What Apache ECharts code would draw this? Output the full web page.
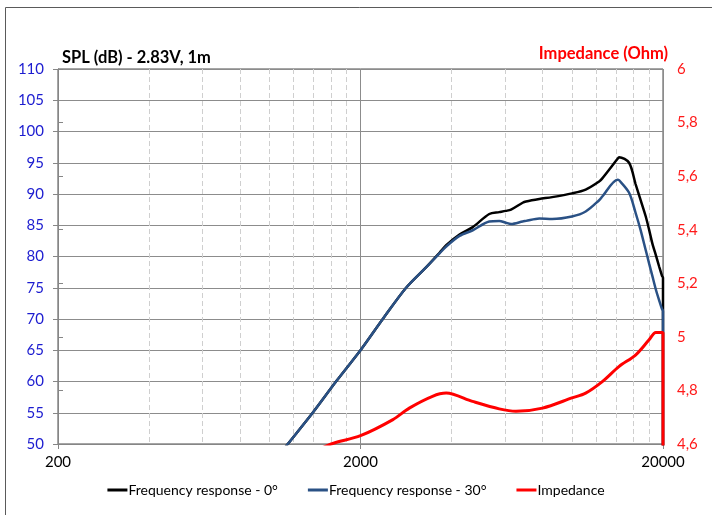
<!DOCTYPE html>
<html>
<head>
<meta charset="utf-8">
<script src="https://cdn.jsdelivr.net/npm/echarts@6/dist/echarts.min.js"></script>
<style>
  html, body { margin: 0; padding: 0; background: #fff; }
  #chart { width: 712px; height: 515px; }
</style>
</head>
<body>
<div id="chart"></div>
<script>
// frequency (Hz) for both SPL curves; last point repeats 20000 for the drop-off
const freqSpl = [1000, 1150, 1390, 1660, 2000, 2370, 2830, 3300, 3650, 3840, 4250, 4700, 5330, 5750, 6050, 6290, 6870, 7050, 7800, 8600, 10000, 11100, 12300, 12600, 14140, 14320, 15450, 16230, 16850, 17540, 17990, 18440, 18970, 19420, 19850, 20000, 20000]
const spl0 = [46.3, 50, 55, 60, 65, 70, 75, 78.3, 80.6, 81.8, 83.5, 84.7, 86.8, 87.1, 87.3, 87.5, 88.6, 88.8, 89.2, 89.5, 90.1, 90.7, 92.0, 92.5, 95.6, 95.9, 95.0, 91.6, 89.1, 86.4, 84.3, 82.1, 80.1, 78.4, 76.9, 76.6, 30]
const spl30 = [46.3, 50, 55, 60, 65, 70, 75, 78.3, 80.5, 81.6, 83.3, 84.2, 85.6, 85.7, 85.4, 85.2, 85.6, 85.7, 86.1, 86.0, 86.4, 87.2, 89.0, 89.6, 92.3, 92.2, 90.2, 87.0, 84.3, 81.0, 78.9, 76.9, 74.6, 73.0, 71.6, 71.3, 30]

const freqImp = [1400, 1600, 2000, 2560, 2900, 3460, 3840, 4690, 5750, 6530, 7990, 10000, 11100, 12600, 14300, 16260, 17990, 18930, 19650, 20000, 20000]
const imp = [4.57, 4.60, 4.631, 4.691, 4.734, 4.778, 4.790, 4.759, 4.731, 4.722, 4.734, 4.772, 4.790, 4.833, 4.889, 4.933, 4.989, 5.016, 5.016, 5.016, 4.4]

const xTicks = [200, 2000, 20000]
const seriesNames = ['Frequency response - 0°', 'Frequency response - 30°', 'Impedance']

const fMin = xTicks[0]
const lg = f => Math.log10(f / fMin)
const pairs = (fs, vs) => fs.map((f, i) => [lg(f), vs[i]])

// minor grid lines at 200*k and 2000*k
let minorPos = []
for (let d = 0; d < xTicks.length - 1; d++) {
  for (let k = 2; k <= 9; k++) minorPos.push(d + Math.log10(k))
}

const font = 'Lato, "Open Sans", sans-serif'
const chart = echarts.init(document.getElementById('chart'))

chart.setOption({
  animation: false,
  textStyle: {fontFamily: font},
  graphic: [{
    type: 'rect',
    shape: {x: 5.5, y: 7.5, width: 760, height: 560},
    style: {fill: 'none', stroke: '#5a5a5a', lineWidth: 1},
    silent: true
  }],
  title: [
    {text: 'SPL (dB) - 2.83V, 1m', left: 57, top: 44, textStyle: {fontSize: 16.5, fontWeight: 'bold', color: '#000', fontFamily: font}},
    {text: 'Impedance (Ohm)', right: 39, top: 40, textStyle: {fontSize: 16.5, fontWeight: 'bold', color: '#ff0000', fontFamily: font}}
  ],
  grid: {
    left: 58, right: 49, top: 69, bottom: 71,
    show: true, borderColor: '#4d4d4d', borderWidth: 1
  },
  legend: {
    bottom: 13,
    left: 'center',
    icon: 'rect',
    itemWidth: 20,
    itemHeight: 3,
    itemGap: 30,
    textStyle: {fontSize: 14, color: '#000', fontFamily: font, padding: [0, 0, 0, -4]},
    data: seriesNames
  },
  xAxis: [
    {
      type: 'value', min: 0, max: 2, interval: 1,
      axisLine: {lineStyle: {color: '#868686'}},
      axisTick: {show: true, length: 5, lineStyle: {color: '#868686'}},
      axisLabel: {
        color: '#000', fontSize: 15, margin: 11,
        formatter: v => String(Math.round(fMin * Math.pow(10, v)))
      },
      splitLine: {show: true, lineStyle: {color: '#8c8c8c', width: 1}}
    },
    {
      type: 'value', min: 0, max: 2, position: 'bottom',
      axisLine: {show: false},
      axisLabel: {show: false},
      axisTick: {show: false, customValues: minorPos},
      splitLine: {show: true, lineStyle: {color: '#cfcfcf', type: [5, 3], width: 1}}
    }
  ],
  yAxis: [
    {
      type: 'value', min: 50, max: 110, interval: 5,
      axisLine: {show: true, lineStyle: {color: '#868686'}},
      axisTick: {show: true, length: 5, lineStyle: {color: '#868686'}},
      axisLabel: {color: '#1c1cd0', fontSize: 15, margin: 14},
      splitLine: {show: true, lineStyle: {color: '#8c8c8c', width: 1}}
    },
    {
      type: 'value', min: 4.6, max: 6, interval: 0.2, position: 'right',
      axisLine: {show: true, lineStyle: {color: '#868686'}},
      axisTick: {show: true, length: 5, lineStyle: {color: '#868686'}},
      axisLabel: {
        color: '#ff1a1a', fontSize: 15, margin: 14,
        formatter: v => String(Math.round(v * 10) / 10).replace('.', ',')
      },
      splitLine: {show: false}
    }
  ],
  series: [
    {
      name: seriesNames[0], type: 'line', xAxisIndex: 0, yAxisIndex: 0,
      data: pairs(freqSpl, spl0), showSymbol: false, smooth: 0.3,
      lineStyle: {color: '#000', width: 2.5}, itemStyle: {color: '#000'}
    },
    {
      name: seriesNames[1], type: 'line', xAxisIndex: 0, yAxisIndex: 0,
      data: pairs(freqSpl, spl30), showSymbol: false, smooth: 0.3,
      lineStyle: {color: '#2a5185', width: 2.5}, itemStyle: {color: '#2a5185'}
    },
    {
      name: seriesNames[2], type: 'line', xAxisIndex: 0, yAxisIndex: 1,
      data: pairs(freqImp, imp), showSymbol: false, smooth: 0.3,
      lineStyle: {color: '#ff0000', width: 3}, itemStyle: {color: '#ff0000'}
    }
  ]
})
</script>
</body>
</html>
